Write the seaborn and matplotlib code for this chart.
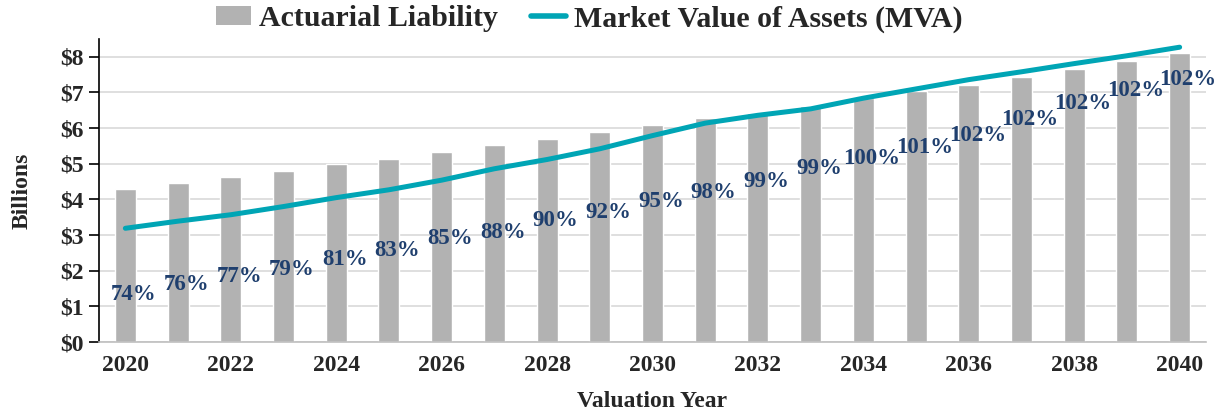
import pandas as pd
import matplotlib
matplotlib.use("Agg")
import matplotlib.pyplot as plt
import seaborn as sns
from matplotlib.patches import Patch
from matplotlib.lines import Line2D

# data (billions)
years = list(range(2020, 2041))
liability = [4.29, 4.46, 4.63, 4.81, 5.00, 5.14, 5.34, 5.52, 5.69, 5.89, 6.09,
             6.27, 6.42, 6.61, 6.84, 7.03, 7.22, 7.43, 7.66, 7.87, 8.11]
mva = [3.19, 3.39, 3.57, 3.80, 4.05, 4.27, 4.54, 4.86, 5.12, 5.42, 5.79,
       6.14, 6.36, 6.54, 6.84, 7.10, 7.36, 7.58, 7.81, 8.03, 8.27]
funded_labels = ["74%", "76%", "77%", "79%", "81%", "83%", "85%", "88%", "90%", "92%", "95%",
                 "98%", "99%", "99%", "100%", "101%", "102%", "102%", "102%", "102%", "102%"]
label_y = [1.32, 1.60, 1.83, 2.04, 2.32, 2.56, 2.89, 3.08, 3.42, 3.64, 3.95,
           4.19, 4.50, 4.88, 5.16, 5.46, 5.78, 6.23, 6.70, 7.06, 7.36]

df = pd.DataFrame({"Year": [str(y) for y in years], "Liability": liability, "MVA": mva})

sns.set_theme(style="white")
plt.rcParams["font.family"] = ["Liberation Serif", "DejaVu Serif"]
plt.rcParams["font.weight"] = "bold"

BAR = "#B2B2B2"
TEAL = "#00A5B5"
NAVY = "#1F3F6E"

fig = plt.figure(figsize=(12.25, 4.11), dpi=100)
ax = fig.add_axes([99 / 1225, 1 - 342 / 411, (1206 - 99) / 1225, (342 - 39) / 411])

sns.barplot(data=df, x="Year", y="Liability", color=BAR, width=0.4, saturation=1, ax=ax, zorder=2)
sns.lineplot(x=range(len(years)), y=df["MVA"], color=TEAL, linewidth=3.6, ax=ax, zorder=3,
             solid_capstyle="round")

for i, (txt, yy) in enumerate(zip(funded_labels, label_y)):
    ax.text(i + 0.16, yy, txt, ha="center", va="center", color=NAVY,
            fontsize=16.5, fontweight="bold", zorder=4)

ax.set_xlim(-0.5, len(years) - 0.5)
ax.set_ylim(0, 8.5)
ax.set_yticks(range(0, 9))
ax.set_yticklabels([f"${v}" for v in range(0, 9)], fontsize=17, fontweight="bold")
ax.set_xticks(range(0, len(years), 2))
ax.set_xticklabels([str(y) for y in years[::2]], fontsize=17, fontweight="bold")
ax.grid(axis="y", color="#D9D9D9", linewidth=1.2, zorder=0)
ax.set_axisbelow(True)

for s in ["top", "right"]:
    ax.spines[s].set_visible(False)
ax.spines["left"].set_color("black")
ax.spines["left"].set_linewidth(1.2)
ax.spines["bottom"].set_color("#BFBFBF")
ax.spines["bottom"].set_linewidth(1.2)
ax.tick_params(axis="y", left=True, length=7, width=1.2, color="black", pad=4)
ax.tick_params(axis="x", bottom=False, pad=3)

ax.set_xlabel("Valuation Year", fontsize=17, fontweight="bold", labelpad=11)
ax.set_ylabel("Billions", fontsize=17, fontweight="bold", labelpad=20)

handles = [Patch(facecolor=BAR, edgecolor="none"),
           Line2D([0], [0], color=TEAL, linewidth=4)]
fig.legend(handles, ["Actuarial Liability", "Market Value of Assets (MVA)"],
           loc="center", bbox_to_anchor=(589 / 1225, 1 - 19 / 411), ncol=2, frameon=False,
           prop={"size": 21.5, "weight": "bold"}, handlelength=1.2, handleheight=0.6,
           handletextpad=0.25, columnspacing=1.1)

fig.savefig("out.png", dpi=100)
